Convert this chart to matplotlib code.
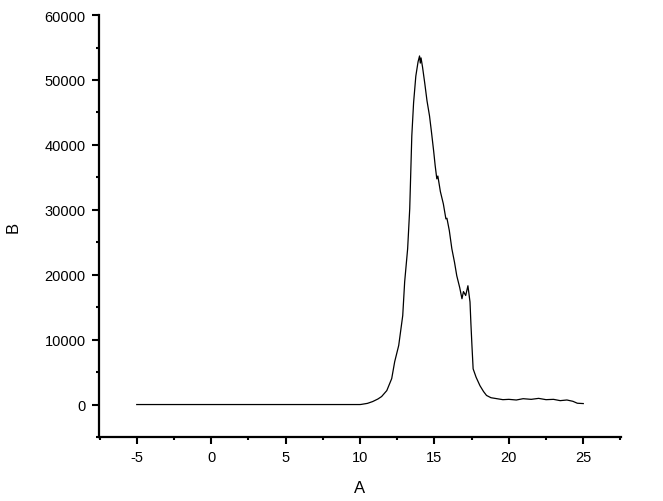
import matplotlib
matplotlib.use("Agg")
import matplotlib.pyplot as plt
from matplotlib.ticker import MultipleLocator

# curve
x_vals = [-5.0, 0.0, 5.0, 10.0, 10.08, 10.5, 10.85, 11.2, 11.45, 11.8, 12.13, 12.33, 12.6,
          12.87, 13.0, 13.2, 13.34, 13.48, 13.6, 13.75, 13.9, 14.0, 14.05, 14.1, 14.2,
          14.35, 14.5, 14.67, 14.8, 14.95, 15.05, 15.16, 15.23, 15.4, 15.6, 15.77, 15.84,
          16.0, 16.17, 16.35, 16.5, 16.7, 16.85, 16.95, 17.1, 17.25, 17.39, 17.45, 17.52,
          17.6, 17.8, 18.06, 18.3, 18.5, 18.8, 19.2, 19.6, 20.0, 20.5, 20.96, 21.5, 22.0,
          22.5, 23.0, 23.45, 23.9, 24.3, 24.6, 25.0]
y_vals = [0, 0, 0, 0, 20, 180, 460, 850, 1230, 2150, 4000, 6600, 9100,
          13700, 18900, 24000, 30150, 41400, 46500, 50600, 52800, 53700, 52600, 53400, 52000,
          49500, 46800, 44460, 42000, 39000, 36800, 34770, 35200, 32800, 30900, 28600, 28700,
          26800, 24000, 21900, 19850, 18000, 16300, 17400, 16800, 18300, 15800, 12500, 9100,
          5500, 4200, 2900, 2000, 1400, 1050, 900, 750, 800, 700, 900, 800, 950,
          750, 800, 600, 700, 500, 200, 150]

x_label = "A"
y_label = "B"

plt.rcParams['font.family'] = ['Liberation Sans', 'DejaVu Sans']
plt.rcParams['axes.unicode_minus'] = False

fig = plt.figure(figsize=(6.63, 5.02), dpi=100)
ax = fig.add_axes([0.149, 0.1275, 0.788, 0.8405])

ax.plot(x_vals, y_vals, color='black', linewidth=0.9)

ax.set_xlim(-7.55, 27.55)
ax.set_ylim(-5000, 60000)

ax.xaxis.set_major_locator(MultipleLocator(5))
ax.xaxis.set_minor_locator(MultipleLocator(2.5))
ax.yaxis.set_major_locator(MultipleLocator(10000))
ax.yaxis.set_minor_locator(MultipleLocator(5000))

for s in ['top', 'right']:
    ax.spines[s].set_visible(False)
for s in ['left', 'bottom']:
    ax.spines[s].set_linewidth(1.6)

ax.tick_params(which='major', direction='out', length=5, width=1.5, labelsize=10.5, pad=4.5)
ax.tick_params(which='minor', direction='out', length=2.5, width=1.5)

ax.set_xlabel(x_label, fontsize=12)
ax.set_ylabel(y_label, fontsize=12)
ax.xaxis.set_label_coords(0.5, -0.102)
ax.yaxis.set_label_coords(-0.149, 0.5)

fig.savefig("out.png", dpi=100)
